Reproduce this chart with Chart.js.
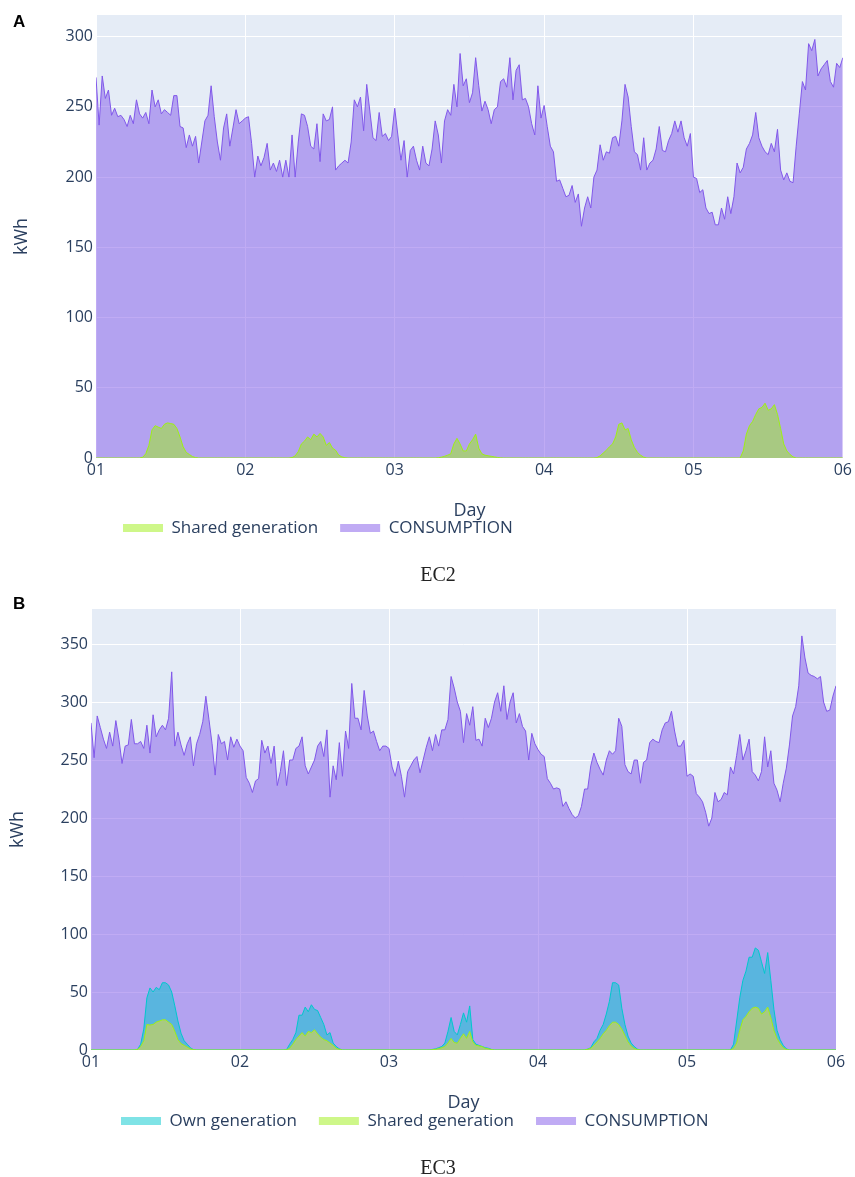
<!DOCTYPE html>
<html>
<head>
<meta charset="utf-8">
<script src="https://cdn.jsdelivr.net/npm/chart.js@4.4.1/dist/chart.umd.min.js"></script>
<style>
  body { margin: 0; background: #fff; width: 855px; height: 1177px; position: relative; overflow: hidden; }
  .panel { position: absolute; left: 0; width: 855px; height: 580px; }
  .tag { position: absolute; font: bold 17px "Liberation Sans", Arial, sans-serif; line-height: 1; color: #000; }
  .cap { position: absolute; left: 340px; width: 196px; text-align: center; font: 20px "Liberation Serif", "Times New Roman", serif; line-height: 1; color: #222; }
</style>
</head>
<body>
<div class="panel" style="top:0"><canvas id="ec2"></canvas></div>
<div class="panel" style="top:590px"><canvas id="ec3"></canvas></div>
<div class="tag" style="left:13px;top:13px">A</div>
<div class="tag" style="left:13px;top:595px">B</div>
<div class="cap" style="top:564px">EC2</div>
<div class="cap" style="top:1157px">EC3</div>

<script>
// half-hourly values, 48 per day, 01 00:00 -> 06 00:00
const dayTicks = ["01", "02", "03", "04", "05", "06"];

const consumptionEC2 = [
  271,237,272,256,262,244,249,243,244,241,236,244,238,255,245,242,246,238,262,250,255,245,248,246,244,258,258,236,235,221,230,222,229,210,225,240,244,265,243,225,212,235,245,222,235,248,238,240,
  242,243,224,200,215,208,214,224,205,210,204,212,200,212,200,230,200,225,245,244,236,222,220,238,211,245,240,241,250,205,208,210,212,210,225,255,250,257,233,266,247,228,226,246,229,231,226,229,
  249,230,212,226,200,219,222,212,205,222,210,208,220,240,230,210,240,248,244,266,250,288,265,270,253,260,285,265,247,254,248,238,248,250,268,270,264,285,255,276,280,255,256,250,238,230,265,242,
  251,236,222,218,197,198,192,186,187,194,182,188,165,178,186,178,200,205,223,212,218,217,228,229,222,240,266,257,236,218,216,205,228,205,210,212,220,236,219,218,226,231,240,232,240,228,222,231,
  200,199,189,191,178,174,175,166,166,178,170,186,174,186,210,203,207,220,224,230,246,228,222,218,216,224,218,234,205,198,203,197,196,222,245,268,262,295,290,298,272,277,280,283,268,264,281,278,285
];

const sharedEC2 = [
  0,0,0,0,0, 0,0,0,0,0, 0,0,0,0,0, 0.5,3,9,20,23,22,21,24,25,24.5,24,21,15,8,4,2.5,1,0.3, 0,0,0,0,0, 0,0,0,0,0, 0,0,0,0,0,
  0,0,0,0,0, 0,0,0,0,0, 0,0,0,0,0, 0.3,1.5,4.5,10,12,15,13,17,15,17.5,15,9,11,7,5.5,2,0.8,0.2, 0,0,0,0,0, 0,0,0,0,0, 0,0,0,0,0,
  0,0,0,0,0, 0,0,0,0,0, 0,0,0,0, 0.2,0.6,1.2,2,3,10,14,10,5,5,10,13,17,7,3,2,1.6,1.2,0.8,0.4,0.1, 0,0,0,0,0, 0,0,0,0,0, 0,0,0,
  0,0,0,0,0, 0,0,0,0,0, 0,0,0,0,0, 0,0, 0.3,1.5,3.5,5.5,8,10,15,24,25,20,21,13,7.5,4,2,0.6, 0,0,0,0,0, 0,0,0,0,0, 0,0,0,0,0,
  0,0,0,0,0, 0,0,0,0,0, 0,0,0,0,0, 0, 5,17,23,26,31,35,36,39,34,35,38,31,21,10,5,2.5,0.8, 0,0,0,0,0, 0,0,0,0,0, 0,0,0,0,0, 0
];

const consumptionEC3 = [
  282,252,288,278,268,260,274,262,284,268,247,262,263,285,264,264,266,260,280,256,289,270,276,280,276,286,326,262,274,263,254,264,270,245,264,272,283,305,285,264,237,272,264,266,250,270,261,268,
  262,258,235,230,222,232,234,267,256,262,247,262,228,240,258,228,250,250,260,262,270,245,238,244,250,262,266,253,276,218,245,233,265,236,275,260,316,286,286,276,310,288,273,275,266,258,262,262,
  260,244,236,249,236,218,240,245,250,253,239,250,261,270,258,272,262,276,276,285,322,312,300,292,265,290,280,296,267,268,262,286,278,286,300,308,292,314,285,300,308,282,290,279,275,250,273,264,
  259,255,253,234,230,225,226,225,210,214,208,203,200,202,210,225,225,245,256,248,242,237,250,258,255,258,286,279,246,240,238,250,250,230,248,250,265,268,266,265,276,282,283,292,275,262,262,267,
  236,238,236,221,218,214,205,193,200,222,214,216,222,220,244,238,254,272,250,258,268,240,237,232,240,270,244,258,230,224,214,230,243,263,288,296,314,357,338,325,323,322,320,322,300,292,293,305,314
];

const sharedEC3 = [
  0,0,0,0,0, 0,0,0,0,0, 0,0,0,0,0, 0.5,3,8,22,21.5,22,24,25,26,26,24,22,16,9,5.5,4,2.5,1,0.3, 0,0,0,0,0, 0,0,0,0,0, 0,0,0,0,
  0,0,0,0,0, 0,0,0,0,0, 0,0,0,0,0, 0.2,1.5,5,9,12,15,12,16,15,17.5,14,11,9,8,6,4,1.5,0.5, 0,0,0,0,0, 0,0,0,0,0, 0,0,0,0,0,
  0,0,0,0,0, 0,0,0,0,0, 0,0,0,0, 0.3,0.6,1.2,2,3,6,10,6.5,5.8,10,14,10,16,7,4,3.5,3,1.5,1,0.4, 0,0,0,0,0, 0,0,0,0,0, 0,0,0,0,
  0,0,0,0,0, 0,0,0,0,0, 0,0,0,0,0, 0, 0.6,1.5,4,7,10,14,17,21,24,24,22,18,12.5,7,3.5,1.4,0.4, 0,0,0,0,0, 0,0,0,0,0, 0,0,0,0,0,
  0,0,0,0,0, 0,0,0,0,0, 0,0,0,0,0, 1.5,6,17,26,29,33,36,37,36,31,33,37,28,17,10,5.5,2,0.5, 0,0,0,0,0, 0,0,0,0,0, 0,0,0,0,0, 0
];

const ownEC3 = [
  0,0,0,0,0, 0,0,0,0,0, 0,0,0,0,0, 0,2,10,23,32,28,30,27,32,32,32,28,22,16,9,4,2.5,1,0, 0,0,0,0,0, 0,0,0,0,0, 0,0,0,0,
  0,0,0,0,0, 0,0,0,0,0, 0,0,0,0,0, 0.1,3.5,4,6,18,15,25,17,24,17.5,20,17,13,5,9,2,1.5,0.5, 0,0,0,0,0, 0,0,0,0,0, 0,0,0,0,0,
  0,0,0,0,0, 0,0,0,0,0, 0,0,0,0, 0.2,0.4,0.8,1,3,10,18,9.5,7.2,12,18,14,22,2,1,0.5,0,0.5,0.5,0.1, 0,0,0,0,0, 0,0,0,0,0, 0,0,0,0,
  0,0,0,0,0, 0,0,0,0,0, 0,0,0,0,0, 0, 0.2,0.5,3,3,7,8,14,21,34,34,34,18,9.5,5,2.5,1.6,0.4, 0,0,0,0,0, 0,0,0,0,0, 0,0,0,0,0,
  0,0,0,0,0, 0,0,0,0,0, 0,0,0,0,0, 3.5,19,28,34,39,47,44,51,50,45,33,47,32,18,7,3.5,2,0.5, 0,0,0,0,0, 0,0,0,0,0, 0,0,0,0,0, 0
];

const PURPLE = "rgb(129, 88, 234)";
const PURPLE_FILL = "rgba(129, 88, 234, 0.5)";
const GREEN = "rgb(158, 240, 20)";
const GREEN_FILL = "rgba(158, 240, 20, 0.5)";
const TEAL = "rgb(0, 200, 205)";
const TEAL_FILL = "rgba(0, 200, 205, 0.5)";
const INK = "#2a3f5f";

function toPoints(vals) {
  return vals.map((v, i) => ({ x: i / 48, y: v }));
}

// grey-blue plot background like plotly
const plotBg = {
  id: "plotBg",
  beforeDraw(chart) {
    const { ctx, chartArea: a } = chart;
    ctx.save();
    ctx.fillStyle = "#e5ecf6";
    ctx.fillRect(a.left, a.top, a.right - a.left, a.bottom - a.top);
    ctx.restore();
  },
};

// move legend row to where the reference has it
const placeLegend = {
  id: "placeLegend",
  afterLayout(chart, args, opts) {
    const lg = chart.legend;
    const p = lg.options.labels.padding;
    const w = lg.right - lg.left;
    const h = lg.bottom - lg.top;
    lg.left = opts.x - p;
    lg.right = lg.left + w;
    lg.top = opts.y - p - 8.5;
    lg.bottom = lg.top + h;
  },
};

function makeChart(id, datasets, yMax, box) {
  const ctx = document.getElementById(id).getContext("2d");
  return new Chart(ctx, {
    type: "line",
    data: { datasets: datasets },
    plugins: [plotBg, placeLegend],
    options: {
      responsive: true,
      maintainAspectRatio: false,
      animation: false,
      layout: { padding: { top: box.top, right: box.right, left: 0, bottom: box.bottom } },
      elements: { point: { radius: 0 }, line: { tension: 0, borderWidth: 1 } },
      scales: {
        x: {
          type: "linear",
          min: 0,
          max: 5,
          afterFit: (s) => { s.height = box.xh; },
          grid: { color: "#ffffff", lineWidth: 1, drawTicks: false },
          border: { display: false },
          ticks: {
            stepSize: 1,
            padding: 3,
            color: INK,
            font: { family: "Open Sans", size: 16 },
            maxRotation: 0,
            callback: (v) => dayTicks[v],
          },
          title: { display: true, text: "Day", color: INK, font: { family: "Open Sans", size: 18 }, padding: { top: 10, bottom: 0 } },
        },
        y: {
          stacked: true,
          min: 0,
          max: yMax,
          afterFit: (s) => { s.width = box.left; },
          grid: { color: "#ffffff", lineWidth: 1, drawTicks: false },
          border: { display: false },
          ticks: {
            stepSize: 50,
            includeBounds: false,
            padding: 3,
            color: INK,
            font: { family: "Open Sans", size: 16 },
          },
          title: { display: true, text: "kWh", color: INK, font: { family: "Open Sans", size: 18 }, padding: { top: box.titleX, bottom: 0 } },
        },
      },
      plugins: {
        tooltip: { enabled: false },
        placeLegend: { x: box.legendX, y: box.legendY },
        legend: {
          position: "bottom",
          align: "start",
          labels: {
            boxWidth: 40,
            boxHeight: 8,
            padding: 22,
            color: INK,
            font: { family: "Open Sans", size: 17 },
            sort: (a, b) => a.datasetIndex - b.datasetIndex,
            generateLabels: (chart) =>
              Chart.defaults.plugins.legend.labels.generateLabels(chart).map((l) =>
                Object.assign(l, { lineWidth: 0, strokeStyle: "rgba(0,0,0,0)" })
              ),
          },
        },
      },
    },
  });
}

makeChart(
  "ec2",
  [
    { label: "Shared generation", data: toPoints(sharedEC2), borderColor: GREEN, backgroundColor: GREEN_FILL, fill: "origin", stack: "gen", order: 1 },
    { label: "CONSUMPTION", data: toPoints(consumptionEC2), borderColor: PURPLE, backgroundColor: PURPLE_FILL, fill: "origin", stack: "use", order: 3 },
  ],
  315.4,
  { top: 15, right: 12, bottom: 9, left: 96, xh: 64, titleX: 11, legendX: 123, legendY: 528 }
);

makeChart(
  "ec3",
  [
    { label: "Own generation", data: toPoints(ownEC3), borderColor: TEAL, backgroundColor: TEAL_FILL, fill: 1, stack: "gen", order: 2 },
    { label: "Shared generation", data: toPoints(sharedEC3), borderColor: GREEN, backgroundColor: GREEN_FILL, fill: "origin", stack: "gen", order: 1 },
    { label: "CONSUMPTION", data: toPoints(consumptionEC3), borderColor: PURPLE, backgroundColor: PURPLE_FILL, fill: "origin", stack: "use", order: 3 },
  ],
  380.2,
  { top: 19, right: 19, bottom: 7, left: 91, xh: 64, titleX: 7, legendX: 121, legendY: 531 }
);
</script>
</body>
</html>
